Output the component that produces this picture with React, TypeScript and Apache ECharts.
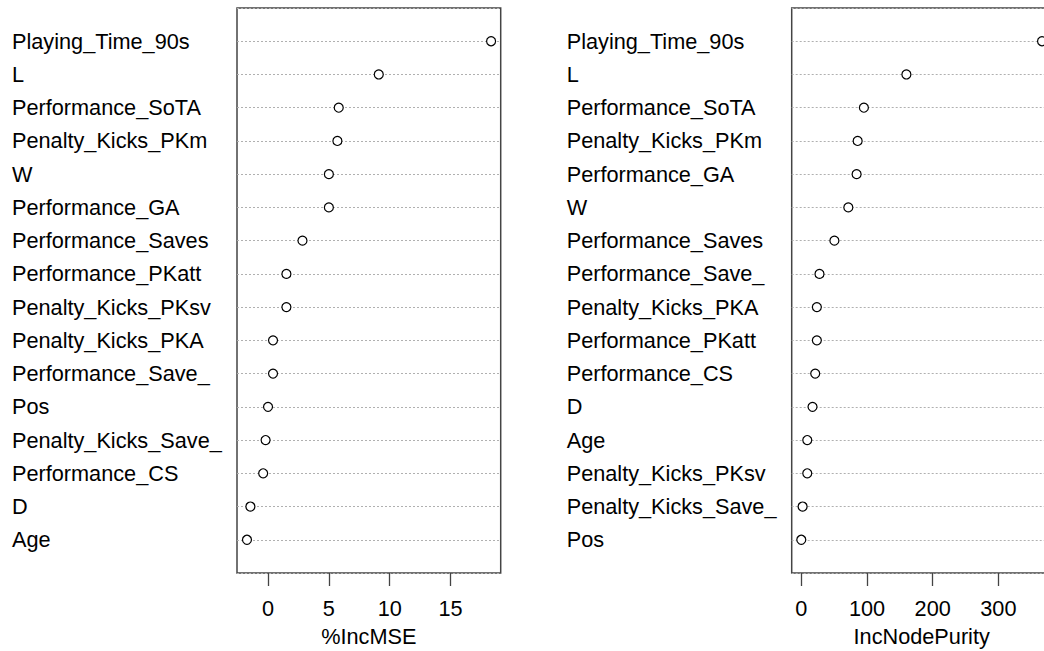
import React, { useEffect, useRef } from "react";
import * as echarts from "echarts";

const leftNames = [
  "Playing_Time_90s", "L", "Performance_SoTA", "Penalty_Kicks_PKm", "W",
  "Performance_GA", "Performance_Saves", "Performance_PKatt", "Penalty_Kicks_PKsv",
  "Penalty_Kicks_PKA", "Performance_Save_", "Pos", "Penalty_Kicks_Save_",
  "Performance_CS", "D", "Age",
];
const leftValues = [18.33, 9.1, 5.81, 5.7, 5.0, 5.0, 2.83, 1.51, 1.51, 0.41, 0.41, 0.0, -0.2, -0.4, -1.45, -1.73];

const rightNames = [
  "Playing_Time_90s", "L", "Performance_SoTA", "Penalty_Kicks_PKm", "Performance_GA",
  "W", "Performance_Saves", "Performance_Save_", "Penalty_Kicks_PKA", "Performance_PKatt",
  "Performance_CS", "D", "Age", "Penalty_Kicks_PKsv", "Penalty_Kicks_Save_", "Pos",
];
const rightValues = [366.5, 160, 95.3, 85.8, 84.2, 71.6, 50.4, 27.7, 23.7, 23.7, 21.2, 17.1, 9.1, 9.1, 2, 0];

const leftTicks = [0, 5, 10, 15];
const rightTicks = [0, 100, 200, 300];

const FONT = "'Liberation Sans', Arial, sans-serif";
const FS = 21.7;

export default function App() {
  const ref = useRef<HTMLDivElement>(null);
  useEffect(() => {
    if (!ref.current) return;
    const chart = echarts.init(ref.current, null, { renderer: "svg" });
    const yCats = (names: string[]) => ["", ...names.slice().reverse(), ""];
    const ptData = (vals: number[]) => vals.slice().reverse().map((v, i) => [v, i + 1]);
    const makeX = (idx: number, min: number, max: number, ticks: number[], name: string) => ({
      type: "value",
      gridIndex: idx,
      min,
      max,
      name,
      nameLocation: "middle",
      nameGap: 52,
      nameTextStyle: { fontFamily: FONT, fontSize: FS, color: "#000" },
      axisLine: { show: false },
      splitLine: { show: false },
      axisTick: { show: true, customValues: ticks, length: 13, lineStyle: { color: "#444", width: 1.3 } },
      axisLabel: {
        show: true,
        customValues: ticks,
        margin: 24,
        fontFamily: FONT,
        fontSize: FS,
        color: "#000",
        verticalAlign: "top",
      },
    });
    const makeY = (idx: number, names: string[]) => ({
      type: "category",
      gridIndex: idx,
      data: yCats(names),
      boundaryGap: false,
      axisLine: { show: false },
      axisTick: { show: false },
      axisLabel: {
        interval: 0,
        align: "left",
        margin: 225,
        fontFamily: FONT,
        fontSize: FS,
        color: "#000",
      },
      splitLine: { show: true, interval: 0, lineStyle: { color: "#b0b0b0", type: [2, 2], width: 1 } },
    });
    const series = (idx: number, vals: number[]) => ({
      type: "scatter",
      xAxisIndex: idx,
      yAxisIndex: idx,
      data: ptData(vals),
      symbol: "circle",
      symbolSize: 9,
      itemStyle: { color: "#fff", borderColor: "#000", borderWidth: 1.2, opacity: 1 },
      emphasis: { disabled: true },
      z: 5,
    });
    chart.setOption({
      animation: false,
      backgroundColor: "#fff",
      grid: [
        { left: 237, top: 8, width: 263.7, height: 565, show: true, borderColor: "#444", borderWidth: 1.5, backgroundColor: "transparent", containLabel: false, outerBoundsMode: "none" },
        { left: 791.7, top: 8, width: 260, height: 565, show: true, borderColor: "#444", borderWidth: 1.5, backgroundColor: "transparent", containLabel: false, outerBoundsMode: "none" },
      ],
      xAxis: [
        makeX(0, -2.55, 19.12, leftTicks, "%IncMSE"),
        makeX(1, -14.6, 381.2, rightTicks, "IncNodePurity"),
      ],
      yAxis: [makeY(0, leftNames), makeY(1, rightNames)],
      series: [series(0, leftValues), series(1, rightValues)],
    });
    return () => chart.dispose();
  }, []);
  return (
    <div
      ref={ref}
      style={{ position: "fixed", left: 0, top: 0, width: 1044, height: 651, background: "#fff" }}
    />
  );
}
